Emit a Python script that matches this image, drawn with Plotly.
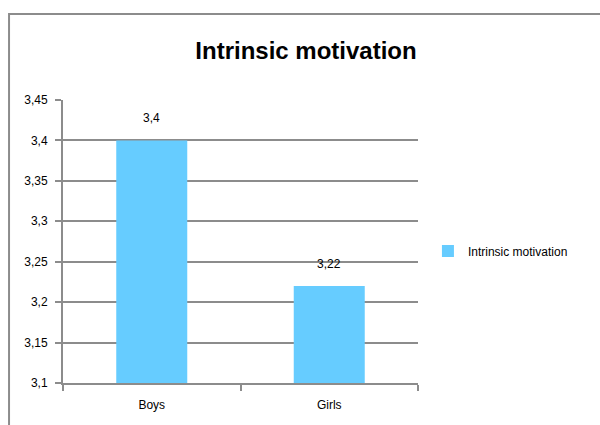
import plotly.graph_objects as go

categories = ["Boys", "Girls"]
values = [3.4, 3.22]
series_name = "Intrinsic motivation"
title_text = "Intrinsic motivation"
y_tick_vals = [3.1, 3.15, 3.2, 3.25, 3.3, 3.35, 3.4, 3.45]
y_tick_text = ["3,1", "3,15", "3,2", "3,25", "3,3", "3,35", "3,4", "3,45"]
value_labels = [str(v).replace(".", ",") for v in values]

FONT = "Liberation Sans Narrow, Arial Narrow, Liberation Sans, Arial, sans-serif"
GRID = "#8c8c8c"

fig = go.Figure()
fig.add_trace(go.Bar(
    x=categories, y=values, name=series_name,
    marker=dict(color="#66CCFF", line=dict(width=0)),
    width=0.4, showlegend=True,
))

for c, v, t in zip(categories, values, value_labels):
    fig.add_annotation(x=c, y=v, text=t, showarrow=False, yshift=22,
                       font=dict(family=FONT, size=12, color="#000000"))

fig.add_shape(type="rect", xref="paper", yref="paper",
              x0=-0.152, x1=1.53, y0=-0.2, y1=1.304,
              line=dict(color="#8c8c8c", width=2), fillcolor="rgba(0,0,0,0)",
              layer="below")

fig.update_layout(
    width=600, height=425,
    margin=dict(l=63, r=182, t=100, b=42),
    paper_bgcolor="white", plot_bgcolor="white",
    separators=", ",
    title=dict(text="<b>" + title_text + "</b>", x=0.51, xanchor="center",
               y=0.882, yanchor="middle",
               font=dict(family=FONT, size=24, color="#000000")),
    bargap=0.6,
    legend=dict(x=1.028, y=0.466, xanchor="left", yanchor="middle",
                font=dict(family=FONT, size=12, color="#000000"),
                itemwidth=30, bgcolor="rgba(0,0,0,0)"),
    xaxis=dict(type="category", tickson="boundaries", ticks="outside",
               ticklen=6, tickcolor=GRID, tickwidth=2,
               showline=True, linecolor=GRID, linewidth=2,
               showgrid=False, ticklabelstandoff=10,
               tickfont=dict(family=FONT, size=12, color="#000000")),
    yaxis=dict(range=[3.1, 3.45], tickvals=y_tick_vals, ticktext=y_tick_text,
               ticks="outside", ticklen=6, tickcolor=GRID, tickwidth=2,
               showline=True, linecolor=GRID, linewidth=2,
               showgrid=True, gridcolor=GRID, gridwidth=2,
               zeroline=False, ticklabelstandoff=5,
               tickfont=dict(family=FONT, size=12, color="#000000")),
)

fig.write_html("out.html")
